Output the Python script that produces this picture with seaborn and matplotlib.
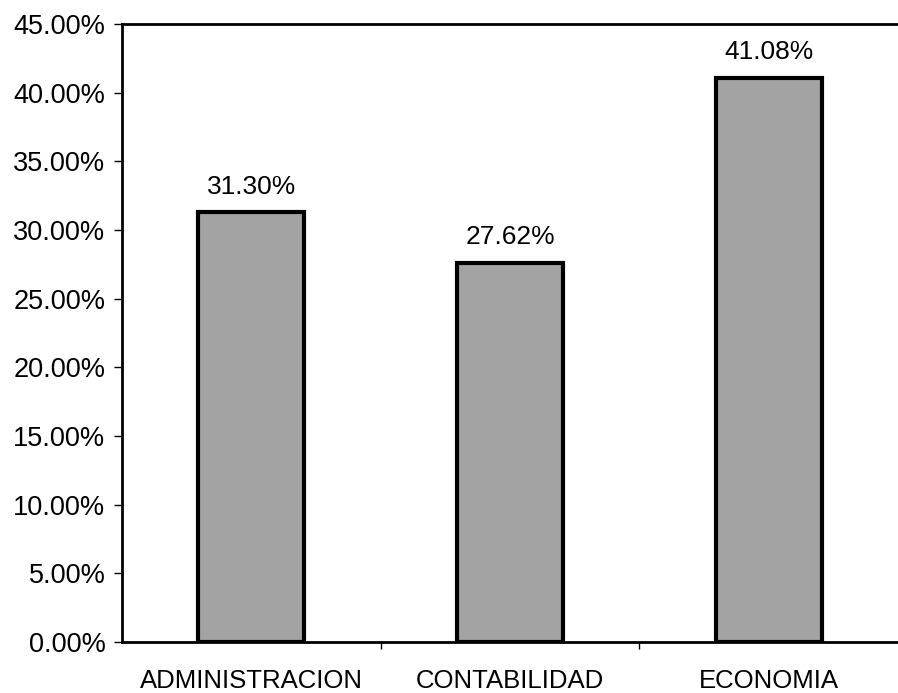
import pandas as pd
import seaborn as sns
import matplotlib.pyplot as plt
from matplotlib.ticker import PercentFormatter

# Data
carreras = ['ADMINISTRACION', 'CONTABILIDAD', 'ECONOMIA']
porcentajes = [31.30, 27.62, 41.08]

data = pd.DataFrame({'carrera': carreras, 'porcentaje': porcentajes})

sns.set_style("white")
plt.rcParams['font.family'] = ['Liberation Sans', 'DejaVu Sans']
plt.rcParams['text.color'] = 'black'
plt.rcParams['xtick.color'] = 'black'
plt.rcParams['ytick.color'] = 'black'

fig, ax = plt.subplots(figsize=(8.98, 6.93), dpi=100)
fig.subplots_adjust(left=0.136, right=1.0, top=0.965, bottom=0.074)

sns.barplot(data=data, x='carrera', y='porcentaje', color='#a3a3a3',
            width=0.41, edgecolor='black', linewidth=3, saturation=1, ax=ax)

# value labels above each bar
for i, v in enumerate(porcentajes):
    ax.text(i, v + 1.0, f"{v:.2f}%", ha='center', va='bottom', fontsize=19)

ax.set_ylim(0, 45)
ax.set_xlim(-0.5, 2.5)
ax.set_yticks(range(0, 46, 5))
ax.yaxis.set_major_formatter(PercentFormatter(decimals=2))
ax.tick_params(axis='y', labelsize=19.5, length=6, width=1, direction='out', left=True, pad=6)
ax.tick_params(axis='x', labelsize=18.5, length=0, pad=20)
ax.set_xticks([0.5, 1.5], minor=True)
ax.tick_params(axis='x', which='minor', length=5, width=1, bottom=True)
ax.set_xlabel('')
ax.set_ylabel('')

for side in ['left', 'bottom', 'top']:
    ax.spines[side].set_linewidth(2)
    ax.spines[side].set_color('black')
ax.spines['right'].set_visible(False)

plt.savefig('out.png', dpi=100)
